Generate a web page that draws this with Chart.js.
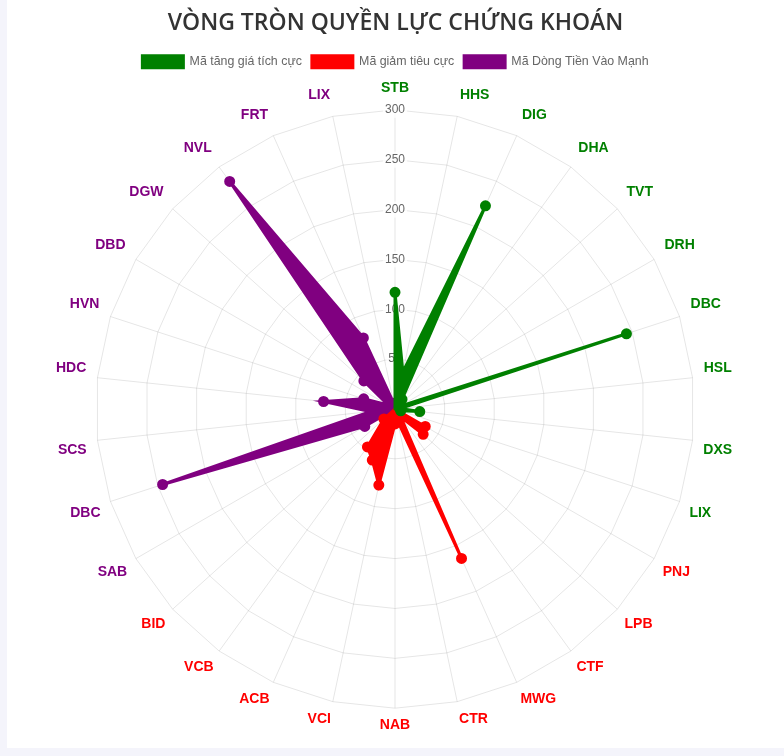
<!DOCTYPE html>
<html>
<head>
<meta charset="utf-8">
<script src="https://cdn.jsdelivr.net/npm/chart.js@4.4.1/dist/chart.umd.min.js"></script>
<style>
    html, body { margin: 0; padding: 0; background: #f4f4fb; }
    .chart-box { position: absolute; left: 7px; top: 0; width: 777px; height: 748px; background: #fff; }
</style>
</head>
<body>
<div class="chart-box"><canvas id="powerRadar"></canvas></div>
<script>
// Mã chứng khoán theo từng nhóm (thứ tự theo chiều kim đồng hồ)
const labels = ['STB', 'HHS', 'DIG', 'DHA', 'TVT', 'DRH', 'DBC', 'HSL', 'DXS', 'LIX',
                'PNJ', 'LPB', 'CTF', 'MWG', 'CTR', 'NAB', 'VCI', 'ACB', 'VCB', 'BID',
                'SAB', 'DBC', 'SCS', 'HDC', 'HVN', 'DBD', 'DGW', 'NVL', 'FRT', 'LIX'];

const tangGia = [117, 38, 223, 12, 6, 5, 244, 5, 25, 6,
                 0, 0, 0, 0, 0, 0, 0, 0, 0, 0,
                 0, 0, 0, 0, 0, 0, 0, 0, 0, 0];
const giamGia = [0, 0, 0, 0, 0, 0, 0, 0, 0, 0,
                 35, 38, 10, 164, 12, 15, 78, 56, 47, 15,
                 0, 0, 0, 0, 0, 0, 0, 0, 0, 0];
const dongTien = [0, 0, 0, 0, 0, 0, 0, 0, 0, 0,
                  0, 0, 0, 0, 0, 0, 0, 0, 0, 0,
                  35, 245, 25, 72, 33, 8, 42, 282, 78, 6];

const tickMax = 300;
const tickStep = 50;

const GREEN = '#008000';
const RED = '#ff0000';
const PURPLE = '#800080';

function labelColor(i) {
    if (i < 10) return GREEN;
    if (i < 20) return RED;
    return PURPLE;
}

// nhãn phía dưới nằm sát lưới hơn một chút
function labelPadding(i) {
    const a = i * 2 * Math.PI / labels.length;
    return 5 - 2 * (1 - Math.cos(a));
}

function makeDataset(label, values, color) {
    return {
        label,
        data: values,
        backgroundColor: color,
        borderColor: color,
        borderWidth: 3,
        fill: true,
        pointBackgroundColor: color,
        pointBorderColor: color,
        pointRadius: values.map(v => v > 0 ? 4 : 0),
        pointHoverRadius: 5
    };
}

new Chart(document.getElementById('powerRadar'), {
    type: 'radar',
    data: {
        labels,
        datasets: [
            makeDataset('Mã tăng giá tích cực', tangGia, GREEN),
            makeDataset('Mã giảm tiêu cực', giamGia, RED),
            makeDataset('Mã Dòng Tiền Vào Mạnh', dongTien, PURPLE)
        ]
    },
    options: {
        responsive: true,
        maintainAspectRatio: false,
        animation: false,
        layout: { padding: { left: 10, right: 10, bottom: 11 } },
        elements: { line: { tension: 0 } },
        plugins: {
            title: {
                display: true,
                text: 'VÒNG TRÒN QUYỀN LỰC CHỨNG KHOÁN',
                color: '#333',
                font: { family: '"Open Sans", sans-serif', size: 23, weight: '600' },
                padding: { top: 10, bottom: 8 }
            },
            legend: {
                labels: {
                    color: '#666',
                    boxWidth: 41,
                    boxHeight: 12,
                    padding: 10,
                    font: { family: '"Liberation Sans", Arial, sans-serif', size: 12.4 }
                }
            },
            tooltip: { enabled: true }
        },
        scales: {
            r: {
                min: 0,
                max: tickMax,
                ticks: {
                    stepSize: tickStep,
                    color: '#666',
                    font: { family: '"Liberation Sans", Arial, sans-serif', size: 12 }
                },
                grid: { color: 'rgba(0,0,0,0.1)' },
                angleLines: { color: 'rgba(0,0,0,0.1)' },
                pointLabels: {
                    color: (ctx) => labelColor(ctx.index),
                    padding: (ctx) => labelPadding(ctx.index),
                    font: { family: '"Liberation Sans", Arial, sans-serif', size: 14, weight: 'bold' }
                }
            }
        }
    }
});
</script>
</body>
</html>
